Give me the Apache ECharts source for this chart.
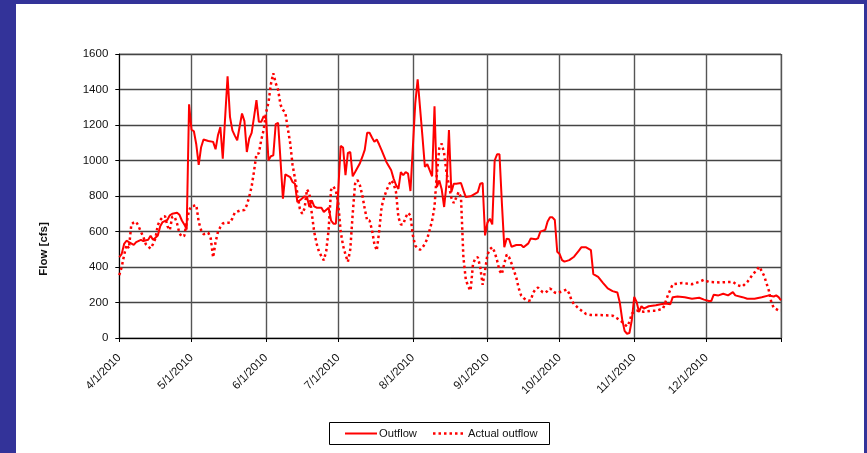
<!DOCTYPE html>
<html>
<head>
<meta charset="utf-8">
<script src="https://cdn.jsdelivr.net/npm/echarts@6/dist/echarts.min.js"></script>
<style>
  html, body { margin: 0; padding: 0; width: 867px; height: 453px; background: #333399; overflow: hidden; }
  #chart { position: absolute; left: 16px; top: 4px; width: 848px; height: 449px; background: #ffffff; }
</style>
</head>
<body>
<div id="chart"></div>
<script>
// Tick labels shown on the date axis (month starts)
const monthLabels = ['4/1/2010', '5/1/2010', '6/1/2010', '7/1/2010', '8/1/2010', '9/1/2010', '10/1/2010', '11/1/2010', '12/1/2010'];
const axisEndLabel = '1/1/2011';
const yTicks = [0, 200, 400, 600, 800, 1000, 1200, 1400, 1600];
const seriesNames = ['Outflow', 'Actual outflow'];

// Categories: every day from 4/1/2010 to 1/1/2011
const categories = [];
for (let t = Date.UTC(2010, 3, 1); t <= Date.UTC(2011, 0, 1); t += 86400000) {
  const d = new Date(t);
  categories.push((d.getUTCMonth() + 1) + '/' + d.getUTCDate() + '/' + d.getUTCFullYear());
}

// Outflow (cfs): day index since 4/1/2010 and value
const outflowDay = [0,1,2,3,4,6,7,9,10,12,13,14,15,16,17,18,20,21,22,24,25,26,27,28,29,30,31,32,33,34,35,37,39,40,41,42,43,44,45,46,47,48,49,50,51,52,53,54,55,56,57,58,59,60,61,62,63,64,65,66,67,68,69,71,72,73,74,75,77,78,79,80,81,82,84,85,87,88,89,90,91,92,93,94,95,96,97,98,100,101,102,103,104,105,106,107,108,109,111,113,114,115,116,117,118,119,120,121,123,124,126,127,128,130,131,132,133,134,135,136,137,138,139,140,142,143,144,146,149,150,151,152,153,154,155,156,157,158,159,160,161,162,163,165,167,168,170,171,173,174,175,177,178,179,180,181,182,183,184,185,187,189,191,192,194,196,197,199,201,203,205,207,208,209,210,211,212,213,214,215,216,217,218,220,223,225,227,229,230,232,235,238,241,243,245,246,247,249,251,253,255,256,259,261,264,267,270,272,273,274,275];
const outflowValue = [455,474,530,548,540,525,540,553,546,553,576,553,565,578,630,653,666,691,700,706,694,662,640,612,1317,1174,1165,1090,975,1075,1118,1110,1105,1063,1142,1189,1010,1246,1475,1246,1170,1140,1114,1190,1265,1222,1048,1124,1156,1246,1340,1218,1218,1250,1237,1001,1024,1029,1205,1212,1001,785,922,907,879,869,766,775,798,794,738,775,742,734,734,710,734,662,644,644,832,1082,1073,917,1043,1048,911,935,985,1020,1060,1156,1156,1130,1105,1118,1090,1058,992,945,898,862,840,935,917,935,926,828,1321,1457,1133,964,979,911,1306,851,888,836,738,869,1171,822,869,869,873,832,794,798,822,869,873,578,650,672,640,1000,1035,1035,760,512,560,556,514,524,524,511,533,561,556,561,599,609,656,680,680,665,486,473,439,430,439,458,492,511,511,495,360,345,311,279,264,256,200,105,40,24,28,100,232,203,147,179,166,179,184,190,194,190,230,234,230,221,227,216,208,208,243,240,249,240,258,240,230,221,221,230,240,234,240,230,212];

// Actual outflow (cfs): day index since 4/1/2010 and value
const actualDay = [0,1,2,3,4,5,6,7,8,9,10,11,12,13,14,15,16,17,18,19,20,21,22,23,24,25,26,27,28,29,30,31,32,33,34,35,36,37,38,39,40,41,42,43,44,45,46,47,48,49,50,51,52,53,54,55,56,57,58,59,60,61,62,63,64,65,66,67,68,69,70,71,72,73,74,75,76,77,78,79,80,81,82,83,84,85,86,87,88,89,90,91,92,93,94,95,96,97,98,99,100,101,102,103,104,105,106,107,108,109,110,111,112,113,114,115,116,117,118,119,120,121,122,123,124,125,126,127,128,129,130,131,132,133,134,135,136,137,138,139,140,141,142,143,144,145,146,147,148,149,150,151,152,153,154,155,156,157,158,159,160,161,162,163,164,165,166,167,168,169,170,171,172,173,174,175,176,177,178,179,180,181,182,183,184,185,186,187,188,189,190,191,192,193,194,196,200,205,207,209,211,212,213,215,218,221,223,226,228,230,234,238,241,243,245,250,255,257,259,261,263,265,266,268,270,271,272,274,275];
const actualValue = [354,400,467,525,505,640,650,655,630,598,570,529,515,504,529,560,636,664,680,687,630,608,683,683,645,590,570,576,650,720,743,745,749,655,608,585,588,593,561,454,540,598,625,645,649,650,649,674,706,712,717,720,721,749,796,853,940,1037,1040,1116,1173,1270,1327,1430,1492,1436,1398,1314,1285,1270,1182,1100,975,900,815,730,700,730,837,815,702,598,532,486,461,438,490,610,834,853,830,758,600,520,470,429,500,700,869,890,860,804,728,662,662,610,530,493,600,738,790,830,860,888,869,822,680,640,640,680,705,690,578,520,505,497,510,530,560,610,660,740,930,1070,1095,1040,930,860,790,760,790,822,794,455,330,290,267,418,450,455,399,300,380,470,500,512,484,437,380,360,420,470,455,420,380,340,280,240,225,215,210,212,255,275,284,270,258,255,265,279,270,256,252,258,262,268,273,250,210,190,178,165,155,145,135,130,129,126,110,90,65,90,138,153,148,153,153,166,241,303,310,303,316,328,316,313,316,297,290,316,353,385,402,350,265,200,170,155,155];

const FONT = 'Liberation Sans, Arial, sans-serif';
const RED = '#ff0000';
const DOTS = [2.5, 3];
const chart = echarts.init(document.getElementById('chart'));

const isMonthLabel = (i, v) => monthLabels.indexOf(v) >= 0;
const isMonthTick = (i, v) => monthLabels.indexOf(v) >= 0 || v === axisEndLabel;

chart.setOption({
  animation: false,
  backgroundColor: '#ffffff',
  textStyle: { fontFamily: FONT },
  grid: { left: 103.3, top: 50, width: 661.7, height: 284, show: true, borderColor: '#9a9a9a', borderWidth: 1, backgroundColor: 'transparent' },
  xAxis: {
    type: 'category',
    data: categories,
    boundaryGap: false,
    axisLine: { lineStyle: { color: '#000', width: 1 } },
    axisTick: { show: true, interval: isMonthTick, length: 4, lineStyle: { color: '#000' } },
    axisLabel: { interval: isMonthLabel, rotate: 45, margin: 18, fontSize: 11.5, color: '#111', fontFamily: FONT },
    splitLine: { show: true, interval: isMonthTick, lineStyle: { color: '#555', width: 1.4 } }
  },
  yAxis: {
    type: 'value',
    min: yTicks[0],
    max: yTicks[yTicks.length - 1],
    interval: 200,
    axisLine: { show: true, lineStyle: { color: '#000', width: 1 } },
    axisTick: { show: true, length: 4, lineStyle: { color: '#000' } },
    axisLabel: { margin: 11, fontSize: 11.5, color: '#111', fontFamily: FONT, formatter: v => String(v) },
    splitLine: { show: true, lineStyle: { color: '#444', width: 1.4 } }
  },
  legend: { show: false },
  graphic: [
    {
      type: 'text',
      x: 28, y: 245,
      rotation: Math.PI / 2,
      style: { text: 'Flow [cfs]', font: 'bold 11.5px ' + FONT, fill: '#111', textAlign: 'center', textVerticalAlign: 'middle' }
    },
    {
      type: 'rect',
      shape: { x: 313.5, y: 418.5, width: 220, height: 22 },
      style: { fill: '#fff', stroke: '#000', lineWidth: 1 }
    },
    {
      type: 'line',
      shape: { x1: 329, y1: 429.5, x2: 361, y2: 429.5 },
      style: { stroke: RED, lineWidth: 2 }
    },
    {
      type: 'text', x: 363, y: 430,
      style: { text: seriesNames[0], font: '11.2px ' + FONT, fill: '#111', textVerticalAlign: 'middle' }
    },
    {
      type: 'line',
      shape: { x1: 417, y1: 429.5, x2: 448, y2: 429.5 },
      style: { stroke: RED, lineWidth: 2.5, lineDash: DOTS }
    },
    {
      type: 'text', x: 452, y: 430,
      style: { text: seriesNames[1], font: '11.2px ' + FONT, fill: '#111', textVerticalAlign: 'middle' }
    }
  ],
  series: [
    {
      name: seriesNames[0], type: 'line', symbol: 'none', showSymbol: false,
      data: outflowDay.map((d, i) => [d, outflowValue[i]]),
      lineStyle: { color: RED, width: 2 },
      itemStyle: { color: RED }
    },
    {
      name: seriesNames[1], type: 'line', symbol: 'none', showSymbol: false,
      data: actualDay.map((d, i) => [d, actualValue[i]]),
      lineStyle: { color: RED, width: 2.5, type: DOTS },
      itemStyle: { color: RED }
    }
  ]
});
</script>
</body>
</html>
